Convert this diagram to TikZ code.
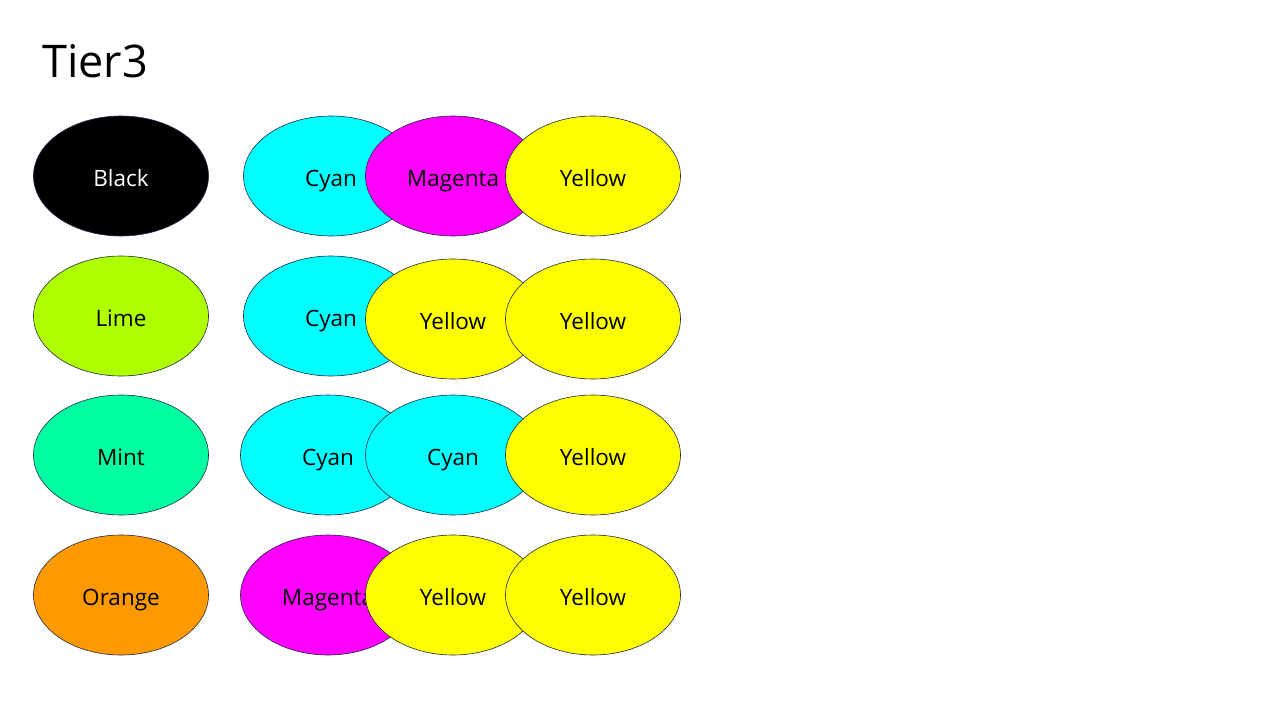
\documentclass[tikz,border=0pt]{standalone}
\usepackage{fontspec}
\setmainfont{Open Sans}
\usetikzlibrary{shapes.geometric}
\definecolor{edge}{HTML}{1F2A44}
\definecolor{cyanc}{HTML}{00FFFF}
\definecolor{magc}{HTML}{FF00FF}
\definecolor{yelc}{HTML}{FFFF00}
\definecolor{limec}{HTML}{AEFF00}
\definecolor{mintc}{HTML}{00FFA0}
\definecolor{orangec}{HTML}{FF9900}
\tikzset{
  blob/.style={ellipse, draw=edge, line width=0.6pt, minimum width=175pt, minimum height=120pt, inner sep=0pt, text height=22pt, text depth=2pt, font=\fontsize{22.5}{26}\selectfont, text=black},
}
\begin{document}
\begin{tikzpicture}[x=1pt,y=-1pt]
\useasboundingbox[fill=white] (0,0) rectangle (1280,720);
\node[anchor=west, font=\fontsize{45}{52}\selectfont, inner sep=0pt] (title) at (42,61) {Tier3};
% row 1
\node[blob, fill=black, text=white] (k) at (121,176) {Black};
\node[blob, fill=cyanc] (r1a) at (331,176) {Cyan};
\node[blob, fill=magc] (r1b) at (453,176) {Magenta};
\node[blob, fill=yelc] (r1c) at (593,176) {Yellow};
% row 2
\node[blob, fill=limec] (l) at (121,316) {Lime};
\node[blob, fill=cyanc] (r2a) at (331,316) {Cyan};
\node[blob, fill=yelc] (r2b) at (453,319) {Yellow};
\node[blob, fill=yelc] (r2c) at (593,319) {Yellow};
% row 3
\node[blob, fill=mintc] (m) at (121,455) {Mint};
\node[blob, fill=cyanc] (r3a) at (328,455) {Cyan};
\node[blob, fill=cyanc] (r3b) at (453,455) {Cyan};
\node[blob, fill=yelc] (r3c) at (593,455) {Yellow};
% row 4
\node[blob, fill=orangec] (o) at (121,595) {Orange};
\node[blob, fill=magc] (r4a) at (328,595) {Magenta};
\node[blob, fill=yelc] (r4b) at (453,595) {Yellow};
\node[blob, fill=yelc] (r4c) at (593,595) {Yellow};
\end{tikzpicture}
\end{document}
